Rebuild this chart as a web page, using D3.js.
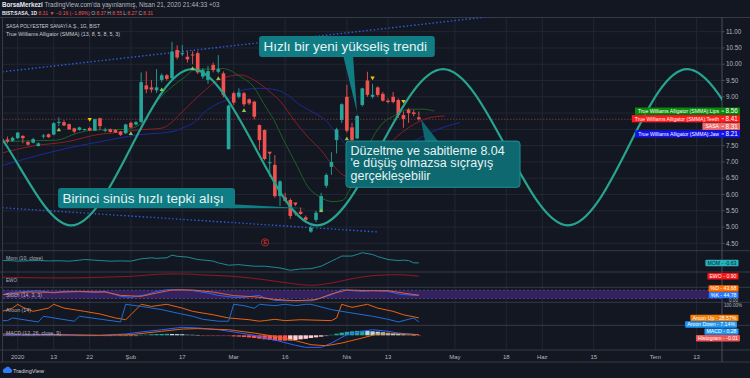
<!DOCTYPE html>
<html><head><meta charset="utf-8">
<script src="https://cdn.jsdelivr.net/npm/d3@7/dist/d3.min.js"></script>
<style>html,body{margin:0;padding:0;background:#131722;}svg{display:block;font-family:"Liberation Sans",Arial,sans-serif;}</style>
</head><body><svg id="chart" width="750" height="378"></svg>
<script>
// ================= DATA =================
// daily candles: [barIndex (0 = 2 Jan 2020), open, high, low, close]
const ohlc = [
[-3,7.67,7.70,7.55,7.58],[-2,7.69,7.78,7.57,7.63],[-1,7.65,7.78,7.62,7.74],[0,7.73,7.92,7.70,7.90],
[1,7.80,7.82,7.57,7.73],[2,7.61,7.65,7.50,7.53],[3,7.59,7.74,7.57,7.70],[4,7.49,7.60,7.47,7.57],
[5,7.79,7.86,7.72,7.81],[6,7.85,7.87,7.74,7.76],[7,7.84,8.22,7.82,8.19],[8,8.20,8.37,8.10,8.23],
[9,8.22,8.28,8.10,8.12],[10,8.16,8.18,7.98,8.00],[11,8.03,8.05,7.88,7.93],[12,7.98,8.08,7.96,8.06],
[13,7.99,8.02,7.96,8.01],[14,8.04,8.08,7.95,7.96],[15,7.96,8.33,7.95,8.31],[16,8.34,8.36,7.98,8.10],
[17,7.97,8.05,7.91,7.99],[18,8.00,8.03,7.90,7.92],[19,7.98,8.01,7.89,7.90],[20,7.93,7.95,7.80,7.83],
[21,7.88,8.17,7.86,8.15],[22,8.20,8.24,8.04,8.06],[23,8.15,8.26,8.12,8.22],[24,8.23,9.75,8.20,9.45],
[25,9.35,9.78,9.11,9.23],[26,9.29,9.52,9.13,9.22],[27,9.20,9.85,9.12,9.29],[28,9.52,9.72,9.45,9.66],
[29,9.66,9.70,9.50,9.55],[30,9.57,10.69,9.50,10.39],[31,10.44,10.58,10.15,10.21],[32,10.32,10.59,10.25,10.34],
[33,10.23,10.40,10.05,10.15],[34,10.30,10.40,10.00,10.28],[35,10.34,10.40,9.70,9.75],[36,9.62,9.88,9.55,9.82],
[37,9.52,9.95,9.40,9.79],[38,9.98,10.05,9.75,9.82],[39,9.77,10.28,9.72,9.85],[40,9.72,9.78,8.98,9.05],
[41,7.39,8.76,7.39,8.73],[42,9.11,9.16,8.75,8.82],[43,9.00,9.26,8.95,9.13],[44,9.11,9.15,8.70,8.77],
[45,8.92,8.95,8.75,8.80],[46,8.85,8.88,8.31,8.39],[47,8.13,8.15,7.37,7.67],[48,7.98,8.00,7.05,7.09],
[49,6.96,7.21,6.55,6.99],[50,6.91,7.21,5.90,5.95],[51,5.95,6.44,5.65,6.40],[52,5.91,6.05,5.78,5.80],
[53,5.83,5.88,5.25,5.34],[54,5.45,5.50,5.35,5.42],[55,5.47,5.60,5.38,5.40],[56,5.30,5.35,5.15,5.22],
[57,4.86,5.05,4.82,4.98],[58,5.22,5.50,5.15,5.44],[59,5.50,6.05,5.45,5.95],[60,6.27,6.65,6.20,6.60],
[61,6.85,7.30,6.60,7.00],[62,7.67,8.05,7.26,8.00],[63,8.29,8.80,8.20,8.77],[64,9.00,9.37,7.90,7.96],
[65,8.06,8.20,7.60,7.67],[66,7.72,8.45,7.70,8.41],[67,8.75,9.28,8.70,9.26],[68,9.50,9.77,9.00,9.06],
[69,9.00,9.40,8.95,9.06],[70,9.29,9.32,9.00,9.06],[71,9.09,9.15,8.85,8.88],[72,8.88,8.95,8.80,8.84],
[73,9.00,9.15,8.80,8.84],[74,8.90,8.95,8.35,8.44],[75,8.44,8.55,8.05,8.32],[76,8.60,8.65,8.20,8.50],
[77,8.52,8.60,8.40,8.47],[78,8.37,8.55,8.27,8.31]];

// Alligator lines: [barIndex, price]
const lips = [[-3.4,7.62],[3,7.65],[7.6,7.67],[11.5,7.88],[14.7,7.98],[21,8.0],[24.2,8.2],[27.3,8.9],[30,9.31],[32.6,9.62],[34.6,9.85],[37.5,9.85],[39.8,9.87],[43.3,9.62],[45.9,9.3],[47.8,8.8],[49.8,8.29],[51.7,7.67],[54.4,6.85],[56.4,6.24],[58.5,5.95],[61.3,5.78],[63.2,5.82],[64.4,6.1],[67.1,7.06],[69.1,7.77],[71,8.19],[73.5,8.44],[76.1,8.62],[78.8,8.62],[81,8.56]];
const teeth = [[-3.4,7.26],[3,7.49],[9.6,7.62],[16,7.85],[18,7.88],[23.4,7.98],[28.1,8.04],[30.1,8.24],[32,8.54],[34,8.85],[36.5,9.21],[38.5,9.46],[40.8,9.62],[43.3,9.67],[45.9,9.52],[48.6,9.21],[51.1,8.85],[53.7,8.29],[56.4,7.77],[58.9,7.37],[60.9,6.97],[64.2,6.55],[67.3,6.7],[70.6,7.27],[73.9,7.8],[77,8.15],[80.4,8.37],[83,8.41]];
const jaw = [[-3.4,6.87],[3,7.16],[9.6,7.42],[16,7.62],[23.4,7.83],[30,7.93],[32,8.04],[34.5,8.24],[36.4,8.54],[38.4,8.75],[41.3,8.95],[43.8,9.21],[47.1,9.26],[50.4,9.21],[52.4,9.06],[54.9,8.75],[56.8,8.58],[58.8,8.40],[59.8,8.29],[61.7,7.93],[63.6,7.57],[65,7.37],[66.9,7.21],[68.9,7.16],[70.8,7.18],[73.4,7.3],[75.9,7.52],[80.2,7.9],[83.1,8.08],[86,8.21]];

// hand-drawn sine wave: turning points and mid crossings [barIndex, price]
const sinePts = [[-14.2,9.85],[-1.98,7.45],[10.17,5.05],[22.03,7.45],[33.9,9.85],[46.14,7.45],[58.2,5.05],[70.45,7.45],[82.7,9.85],[94.95,7.45],[107.0,5.05],[118.7,7.45],[130.15,9.85],[142.4,7.45]];
// dotted channel lines [barIndex, price]
const upperChannel = [[-2.86,9.77],[95,11.52]];
const lowerChannel = [[-2.86,5.59],[69.9,4.85]];

// Williams fractal markers
const fractals = [
 {i:8,p:8.00,dir:'up',kind:'g'},{i:14,p:8.29,dir:'down',kind:'y'},{i:22,p:7.88,dir:'up',kind:'g'},
 {i:28,p:9.23,dir:'up',kind:'g'},{i:34,p:9.88,dir:'up',kind:'g'},{i:39,p:9.57,dir:'up',kind:'g'},
 {i:44,p:8.59,dir:'up',kind:'g'},{i:49,p:7.26,dir:'down',kind:'r'},{i:54,p:5.70,dir:'down',kind:'r'},
 {i:59,p:5.52,dir:'up',kind:'g'},{i:64,p:7.72,dir:'up',kind:'g'},{i:69,p:9.57,dir:'down',kind:'y'},
 {i:75,p:8.85,dir:'down',kind:'y'}];

const priceTicks = [4.5,5,5.5,6,6.5,7,7.5,8,8.5,9,9.5,10,10.5,11];
const timeTickIdx = [0,7,14,22,32,42,52,64,72,85,95,102,112,124,132];
const timeTickLbl = ['2020','13','22','Şub','17','Mar','16','Nis','13','May','18','Haz','15','Tem','13'];

// indicator panes: [barIndex, value]
const mom = [[-3,0.17],[-1,0.1],[0,-0.03],[2,0.1],[4,0.17],[6,0.05],[8,0.1],[10,-0.03],[12,0.3],[13,0.51],[15,0.3],[16,0.17],[18,-0.03],[20,0.05],[22,-0.03],[24,0.75],[26,1.09],[27,0.9],[29,1.09],[30,2.0],[31,1.6],[33,1.33],[35,0.51],[37,0.2],[38,-0.03],[39,-0.61],[41,-1.39],[43,-1.19],[44,-1.4],[46,-1.73],[48,-1.73],[50,-2.1],[51,-2.31],[53,-3.09],[55,-2.65],[57,-2.55],[59,-1.73],[61,-0.03],[62,0.8],[63,1.67],[65,1.67],[67,2.79],[69,2.21],[70,1.5],[72,0.51],[74,0.17],[75,0.3],[76,0.17],[77,-0.61],[78,-0.63]];
const ewo = [[-3,0.53],[9,0.26],[16,0.53],[22,0.9],[29,1.78],[33,1.78],[35,1.51],[42,0.9],[48,-0.38],[54,-2.0],[57,-2.5],[61,-1.63],[65,0],[70,1.29],[74,1.51],[78,0.9]];
const stochK = [[-3,48],[-1,65],[2,72],[4,77],[7,60],[9,72],[12,72],[15,65],[17,72],[20,36],[22,29],[25,48],[27,72],[29,84],[32,84],[34,77],[37,60],[39,43],[42,29],[44,29],[47,43],[48,24],[50,7],[52,4],[54,4],[55,4],[57,4],[59,24],[61,48],[63,84],[65,77],[67,72],[69,77],[72,72],[74,53],[77,43],[78,44.78]];
const stochD = [[-3,48],[2,67],[7,65],[12,70],[17,67],[20,43],[24,36],[27,60],[30,82],[34,82],[38,67],[42,41],[46,33],[50,14],[54,4],[58,12],[61,53],[64,82],[68,77],[72,77],[75,60],[78,43.68]];
const aroonUp = [[-3,63],[-1,80],[0,100],[1,84],[3,63],[6,80],[7,100],[9,80],[13,63],[16,49],[19,28],[21,19],[22,45],[24,100],[26,89],[29,100],[32,80],[34,63],[38,45],[41,28],[45,19],[47,11],[48,14],[50,21],[52,14],[55,19],[61,14],[62,28],[63,100],[65,84],[68,100],[70,80],[73,63],[75,45],[78,28.57]];
const aroonDown = [[-3,14],[-2,14],[-1,28],[0,24],[4,7],[5,37],[11,11],[12,37],[20,7],[21,100],[24,89],[28,72],[31,54],[34,37],[36,21],[39,11],[41,11],[42,100],[44,93],[46,79],[47,100],[50,93],[52,100],[54,93],[56,100],[57,100],[58,93],[61,72],[65,54],[69,37],[72,21],[74,7],[77,28],[78,7.14]];
const macdLine = [[-3,0],[9,0],[16,0],[21,0.1],[24,0.25],[28,0.42],[32,0.6],[35,0.55],[39,0.42],[42,0.25],[46,0],[48,-0.2],[51,-0.45],[54,-0.75],[56,-0.9],[59,-0.9],[61,-0.58],[64,0.05],[67,0.3],[69,0.42],[72,0.3],[74,0.17],[78,0.04]];
const signalLine = [[-3,0.1],[9,0.05],[16,0],[22,0.05],[28,0.3],[32,0.47],[35,0.5],[41,0.42],[46,0.17],[50,-0.08],[54,-0.4],[57,-0.7],[60,-0.78],[63,-0.58],[67,-0.2],[70,0.1],[74,0.12],[78,0.05]];
const histStart = -3;
const histVals = [-0.03,-0.03,-0.02,-0.03,-0.04,-0.03,-0.02,-0.03,-0.04,-0.03,-0.03,-0.02,-0.03,
 -0.05,-0.06,-0.05,-0.07,-0.06,-0.05,-0.06,-0.07,-0.05,-0.06,-0.05,-0.04,-0.03,-0.02,
 0.04,0.06,0.08,0.09,0.1,0.11,0.1,0.09,0.08,0.06,0.05,0.03,
 -0.02,-0.03,-0.04,-0.05,-0.05,-0.06,
 -0.08,-0.1,-0.13,-0.16,-0.2,-0.25,-0.3,-0.35,-0.38,-0.4,-0.4,-0.38,-0.35,-0.3,-0.26,-0.2,-0.15,-0.1,-0.05,
 0.05,0.12,0.2,0.26,0.3,0.33,0.34,0.33,0.3,0.27,0.23,0.19,0.15,0.11,0.08,0.05,0.02,
 -0.01];

// annotations (box corners and tail points in [barIndex, price])
const notes = [
 {lines:['Birinci sinüs hızlı tepki alışı'], box:[7.84,6.20,42.25,5.58], tail:[[41.3,5.70],[56.19,5.575],[41.3,5.575]], style:'a'},
 {lines:['Hızlı bir yeni yükseliş trendi'], box:[46.92,10.87,81.1,10.22], tail:[[63.3,10.25],[65.97,8.53],[65.2,10.25]], style:'a'},
 {lines:['Düzeltme ve sabitleme 8.04',"'e düşüş olmazsa sıçrayış",'gerçekleşebilir'], box:[63.83,7.64,97.67,6.22], tail:[[78.42,8.30],[79.2,7.62],[81.8,7.62]], style:'b'}];

// last-value labels
const mainLabels = [
 {name:'True Williams Alligator (SMMA):Lips', v:8.56, bg:'#0a8a0a'},
 {name:'True Williams Alligator (SMMA):Teeth', v:8.41, bg:'#ff1a1a'},
 {name:'SASA', v:8.31, bg:'#ef6b6b'},
 {name:'True Williams Alligator (SMMA):Jaw', v:8.21, bg:'#1010f0'}];

// ================= DRAW =================
const svg = d3.select('#chart');
const TXT = '#b2b5be';
svg.append('rect').attr('width',750).attr('height',378).attr('fill','#131722');

function fit(sel, width){
  const fs = +sel.attr('font-size');
  const w = sel.node().getComputedTextLength();
  if (w>0 && width) sel.attr('font-size', (fs*width/w).toFixed(2));
  return sel;
}

const PL = 3, PR = 722;
const x = d3.scaleLinear().domain([-2.86,136.94]).range([PL,PR]);
const y = d3.scaleLinear().domain([4.5,11]).range([243.3,31.7]);
const yMom = d3.scaleLinear().domain([-3.67,3.47]).range([272,250.7]);
const yEwo = d3.scaleLinear().domain([-3.25,2.53]).range([287.3,272]);
const yStoch = d3.scaleLinear().domain([0,100]).range([301.3,287.5]);
const yAroon = d3.scaleLinear().domain([0,100]).range([323.3,304.3]);
const yMacd = d3.scaleLinear().domain([-1.1,0.75]).range([350,325.3]);
const MAIN_TOP = 17.5, MAIN_BOT = 250.7;

const defs = svg.append('defs');
defs.append('clipPath').attr('id','clipMain').append('rect').attr('x',PL).attr('y',MAIN_TOP).attr('width',PR-PL).attr('height',MAIN_BOT-MAIN_TOP);
defs.append('clipPath').attr('id','clipSub').append('rect').attr('x',PL).attr('y',MAIN_BOT).attr('width',PR-PL).attr('height',350-MAIN_BOT);

// grid
const grid = svg.append('g');
grid.selectAll('.vg').data(timeTickIdx).join('line')
  .attr('x1',d=>x(d)).attr('x2',d=>x(d)).attr('y1',MAIN_TOP).attr('y2',350)
  .attr('stroke','#232732').attr('stroke-width',1);
grid.selectAll('.hg').data(priceTicks).join('line')
  .attr('x1',PL).attr('x2',PR).attr('y1',d=>y(d)).attr('y2',d=>y(d))
  .attr('stroke','#232732').attr('stroke-width',1);

// frame & separators
const frame = svg.append('g').attr('stroke','#363a45').attr('stroke-width',1);
[MAIN_TOP,250.7,272,287.3,302.3,325.3,350,362].forEach(v=>frame.append('line').attr('x1',0).attr('x2',750).attr('y1',v).attr('y2',v));
frame.append('line').attr('x1',2.5).attr('x2',2.5).attr('y1',MAIN_TOP).attr('y2',362);
frame.append('line').attr('x1',PR).attr('x2',PR).attr('y1',MAIN_TOP).attr('y2',362).attr('stroke','#4a4e5a');

// ---- main pane ----
const main = svg.append('g').attr('clip-path','url(#clipMain)');
main.append('line').attr('x1',PL).attr('x2',PR).attr('y1',y(8.31)).attr('y2',y(8.31))
  .attr('stroke','#8e3a3e').attr('stroke-width',0.8).attr('stroke-dasharray','1.5 1.5');

const line = d3.line().x(d=>x(d[0])).y(d=>y(d[1]));
[upperChannel, lowerChannel].forEach(c=>main.append('path').attr('d',line(c)).attr('fill','none')
  .attr('stroke','#2a5bdc').attr('stroke-width',1.6).attr('stroke-linecap','round').attr('stroke-dasharray','0.1 3.6'));
const smooth = d3.line().x(d=>x(d[0])).y(d=>y(d[1])).curve(d3.curveMonotoneX);
main.append('path').attr('d',smooth(jaw)).attr('fill','none').attr('stroke','#1d2a9a').attr('stroke-width',1);
main.append('path').attr('d',smooth(teeth)).attr('fill','none').attr('stroke','#8c1e26').attr('stroke-width',1);
main.append('path').attr('d',smooth(lips)).attr('fill','none').attr('stroke','#1d6226').attr('stroke-width',1);

const up = '#26a69a', dn = '#ef5350';
const cg = main.append('g');
cg.selectAll('line').data(ohlc).join('line')
  .attr('x1',d=>x(d[0])).attr('x2',d=>x(d[0])).attr('y1',d=>y(d[2])).attr('y2',d=>y(d[3]))
  .attr('stroke',d=>d[4]>=d[1]?up:dn).attr('stroke-width',0.9);
cg.selectAll('rect').data(ohlc).join('rect')
  .attr('x',d=>x(d[0])-1.8).attr('width',3.6)
  .attr('y',d=>y(Math.max(d[1],d[4])))
  .attr('height',d=>Math.max(1,Math.abs(y(d[1])-y(d[4]))))
  .attr('fill',d=>d[4]>=d[1]?up:dn);

main.append('path').attr('d',d3.line().x(d=>x(d[0])).y(d=>y(d[1])).curve(d3.curveNatural)(sinePts))
  .attr('fill','none').attr('stroke','#26a48f').attr('stroke-width',2.2);

const fcol = {g:'#8bc34a', y:'#f5c400', r:'#ef5350'};
main.selectAll('.fr').data(fractals).join('path')
  .attr('d',d=>{const cx=x(d.i), cy=y(d.p); return d.dir==='up'
     ? `M${cx-2.2},${cy+1.8}L${cx+2.2},${cy+1.8}L${cx},${cy-1.9}Z`
     : `M${cx-2.2},${cy-1.8}L${cx+2.2},${cy-1.8}L${cx},${cy+1.9}Z`;})
  .attr('fill',d=>fcol[d.kind]);

main.append('circle').attr('cx',x(48.1)).attr('cy',y(4.53)).attr('r',3.6).attr('fill','#131722').attr('stroke','#c62828').attr('stroke-width',0.9);
main.append('text').attr('x',x(48.1)).attr('y',y(4.53)+2).attr('text-anchor','middle').attr('font-size',5.5).attr('fill','#e53935').text('E');

// annotations
const ann = svg.append('g');
notes.forEach(n=>{
  const fill = n.style==='a' ? '#107d85' : '#0e6870';
  const x0=x(n.box[0]), y0=y(n.box[1]), x1=x(n.box[2]), y1=y(n.box[3]);
  ann.append('path').attr('d','M'+n.tail.map(t=>x(t[0])+','+y(t[1])).join('L')+'Z').attr('fill',fill);
  ann.append('rect').attr('x',x0).attr('y',y0).attr('width',x1-x0).attr('height',y1-y0).attr('rx',3)
     .attr('fill',fill).attr('stroke',n.style==='b'?'#1c8f97':'none').attr('stroke-width',1);
  if(n.lines.length===1){
    ann.append('text').attr('font-size',13.5).attr('fill','#e6f3f3')
      .attr('x',x0+4.5).attr('y',(y0+y1)/2+4.8).text(n.lines[0]);
  } else {
    let fs = 12.4;
    n.lines.forEach((s,k)=>{
      const t = ann.append('text').attr('font-size',fs).attr('fill','#e6f3f3')
        .attr('x',x0+4.5).attr('y',y0+13.8+k*12.5).text(s);
      if(k===0){ fit(t,166); fs = Math.min(12.5, +t.attr('font-size')); t.attr('font-size',fs); }
    });
  }
});

// main last-value labels (stacked downward)
let lastY = -1e9; const LH = 7.6; const occupied = [];
mainLabels.forEach(l=>{ const cy = Math.max(y(l.v), lastY+LH); lastY = cy; l.cy = cy; occupied.push([cy-LH/2, cy+LH/2]); });

const visTicks = priceTicks.filter(p=>!occupied.some(o=>y(p)>o[0]-3 && y(p)<o[1]+3));
const pa = svg.append('g').attr('font-size',6.3).attr('fill',TXT);
pa.selectAll('text').data(visTicks).join('text').attr('x',726).attr('y',d=>y(d)+2.2).text(d=>d.toFixed(2));
pa.selectAll('line').data(priceTicks).join('line').attr('x1',PR).attr('x2',PR+2.5).attr('y1',d=>y(d)).attr('y2',d=>y(d)).attr('stroke','#4a4e5a');

mainLabels.forEach(l=>{
  const cy = l.cy;
  const g = svg.append('g');
  const r = g.append('rect').attr('fill',l.bg).attr('y',cy-LH/2+0.2).attr('height',LH-0.4);
  const nt = g.append('text').attr('x',719).attr('y',cy+1.8).attr('text-anchor','end').attr('font-size',5.1).attr('fill','#fff').text(l.name);
  g.append('text').attr('x',725.5).attr('y',cy+2.2).attr('font-size',6.3).attr('fill','#fff').text(l.v.toFixed(2));
  g.append('line').attr('x1',PR-0.5).attr('x2',PR+2).attr('y1',cy).attr('y2',cy).attr('stroke','#fff').attr('stroke-width',0.8);
  const w = nt.node().getComputedTextLength();
  r.attr('x',719-w-3).attr('width',740-(719-w-3));
});

// time axis
const ta = svg.append('g').attr('font-size',6).attr('fill',TXT).attr('text-anchor','middle');
ta.selectAll('text').data(timeTickIdx).join('text').attr('x',d=>x(d)).attr('y',359.3).text((d,k)=>timeTickLbl[k]);

// ---- sub panes ----
const sub = svg.append('g').attr('clip-path','url(#clipSub)');
const mk = (sc)=>d3.line().x(d=>x(d[0])).y(d=>sc(d[1]));
sub.append('rect').attr('x',PL).attr('width',PR-PL).attr('y',yStoch(80)).attr('height',yStoch(20)-yStoch(80)).attr('fill','#34215f');
[80,20].forEach(v=>sub.append('line').attr('x1',PL).attr('x2',PR).attr('y1',yStoch(v)).attr('y2',yStoch(v)).attr('stroke','#6d5a9a').attr('stroke-width',0.6).attr('stroke-dasharray','2 2'));
sub.append('path').attr('d',mk(yMom)(mom)).attr('fill','none').attr('stroke','#1e8a95').attr('stroke-width',1);
sub.append('path').attr('d',mk(yEwo).curve(d3.curveMonotoneX)(ewo)).attr('fill','none').attr('stroke','#8e1a22').attr('stroke-width',1);
sub.append('path').attr('d',mk(yStoch)(stochK)).attr('fill','none').attr('stroke','#2962ff').attr('stroke-width',1);
sub.append('path').attr('d',mk(yStoch)(stochD)).attr('fill','none').attr('stroke','#e65f2b').attr('stroke-width',1);
sub.append('path').attr('d',mk(yAroon)(aroonUp)).attr('fill','none').attr('stroke','#e6640f').attr('stroke-width',1);
sub.append('path').attr('d',mk(yAroon)(aroonDown)).attr('fill','none').attr('stroke','#1f6fd0').attr('stroke-width',1);
const hist = histVals.map((v,k)=>({i:histStart+k, v, prev: k? histVals[k-1]:v}));
sub.selectAll('.hb').data(hist).join('rect')
  .attr('x',d=>x(d.i)-2.2).attr('width',4.4)
  .attr('y',d=>Math.min(yMacd(0),yMacd(d.v))).attr('height',d=>Math.max(0.8,Math.abs(yMacd(d.v)-yMacd(0))))
  .attr('fill',d=> d.v>=0 ? (d.v>=d.prev?'#26a69a':'#b2dfdb') : (d.v<=d.prev?'#ff5252':'#ffcdd2'))
  .attr('opacity',d=>Math.abs(d.v)<0.08?0.55:1);
sub.append('path').attr('d',mk(yMacd)(macdLine)).attr('fill','none').attr('stroke','#2962ff').attr('stroke-width',1);
sub.append('path').attr('d',mk(yMacd)(signalLine)).attr('fill','none').attr('stroke','#e6640f').attr('stroke-width',1);

// sub-pane value labels (each kept clear of the previous one)
const SLH = 6.6;
const subLabels = [
 {t:'MOM - -0.63', y:yMom(-0.63), bg:'#26b3bd', fg:'#10222a'},
 {t:'EWO - 0.90', y:yEwo(0.90), bg:'#ff1010', fg:'#fff'},
 {t:'%D - 43.68', y:yStoch(44.78)-SLH, bg:'#ff6d00', fg:'#fff'},
 {t:'%K - 44.78', y:yStoch(44.78), bg:'#2979ff', fg:'#fff'},
 {t:'Aroon Up - 28.57%', y:yAroon(28.57), bg:'#f57c00', fg:'#fff'},
 {t:'Aroon Down - 7.14%', y:yAroon(7.14), bg:'#2196f3', fg:'#fff', x1:737},
 {t:'MACD - 0.28', y:yMacd(0.28), bg:'#2196f3', fg:'#fff'},
 {t:'Histogram - -0.01', y:yMacd(-0.01), bg:'#ef5350', fg:'#fff', x1:740}];
let prevY = -1e9;
subLabels.forEach(l=>{
  const cy = Math.max(l.y, prevY+SLH); prevY = cy;
  const g = svg.append('g');
  const r = g.append('rect').attr('fill',l.bg).attr('y',cy-SLH/2+0.1).attr('height',SLH-0.2).attr('rx',0.8);
  const xr = l.x1||738.5;
  const t = g.append('text').attr('x',xr-2).attr('y',cy+1.9).attr('text-anchor','end').attr('font-size',5.2).attr('fill',l.fg).text(l.t);
  const w = t.node().getComputedTextLength();
  r.attr('x',xr-w-4).attr('width',w+4);
});
svg.append('text').attr('x',729).attr('y',301.6).attr('font-size',4.6).attr('fill',TXT).text('0.00');
svg.append('text').attr('x',724).attr('y',307.4).attr('font-size',4.6).attr('fill',TXT).text('100.00%');

// pane legends
const leg = [['Mom (10, close)',260,37],['EWO',281.7,11],['Stoch (14, 3, 3)',296.7,36],['Aroon (14)',312,25],['MACD (12, 26, close, 9)',335,55]];
leg.forEach(l=>fit(svg.append('text').attr('x',6).attr('y',l[1]).attr('font-size',6).attr('fill',TXT).text(l[0]), l[2]));
fit(svg.append('text').attr('x',6).attr('y',27.6).attr('font-size',6.2).attr('fill','#c9ccd3')
   .text('SASA POLYESTER SANAYİ A.Ş., 1G, BIST'), 94);
fit(svg.append('text').attr('x',6).attr('y',35.6).attr('font-size',6.2).attr('fill','#c9ccd3')
   .text('True Williams Alligator (SMMA) (13, 8, 5, 8, 5, 3)'), 114);

// header
const h1 = svg.append('text').attr('x',2).attr('y',6.6).attr('font-size',6.3).attr('fill',TXT);
h1.append('tspan').attr('fill','#e8e9ed').attr('font-weight','bold').text('BorsaMerkezi');
h1.append('tspan').text(" TradingView.com'da yayınlanmış, Nisan 21, 2020 21:44:33 +03");
fit(h1, 218);
const h2 = svg.append('text').attr('x',2).attr('y',14.6).attr('font-size',6.3).attr('fill',TXT);
h2.append('tspan').attr('fill','#e8e9ed').attr('font-weight','bold').text('BIST:SASA, 1D ');
h2.append('tspan').attr('fill',dn).text('8.31 ▼ −0.16 (−1.89%) ');
[['O:','8.37 '],['H:','8.55 '],['L:','8.27 '],['C:','8.31']].forEach(p=>{
  h2.append('tspan').text(p[0]); h2.append('tspan').attr('fill',dn).text(p[1]);});
fit(h2, 151);

// TradingView logo
const lg = svg.append('g');
lg.append('path').attr('d','M4,373 a2.6,2.6 0 0 1 1.2,-4.8 a3,3 0 0 1 5.4,0.6 a2.2,2.2 0 0 1 0.2,4.2 Z').attr('fill','#2e7cf6');
fit(lg.append('text').attr('x',13).attr('y',372.6).attr('font-size',6).attr('fill','#d1d4dc').text('TradingView'), 31);
</script></body></html>
